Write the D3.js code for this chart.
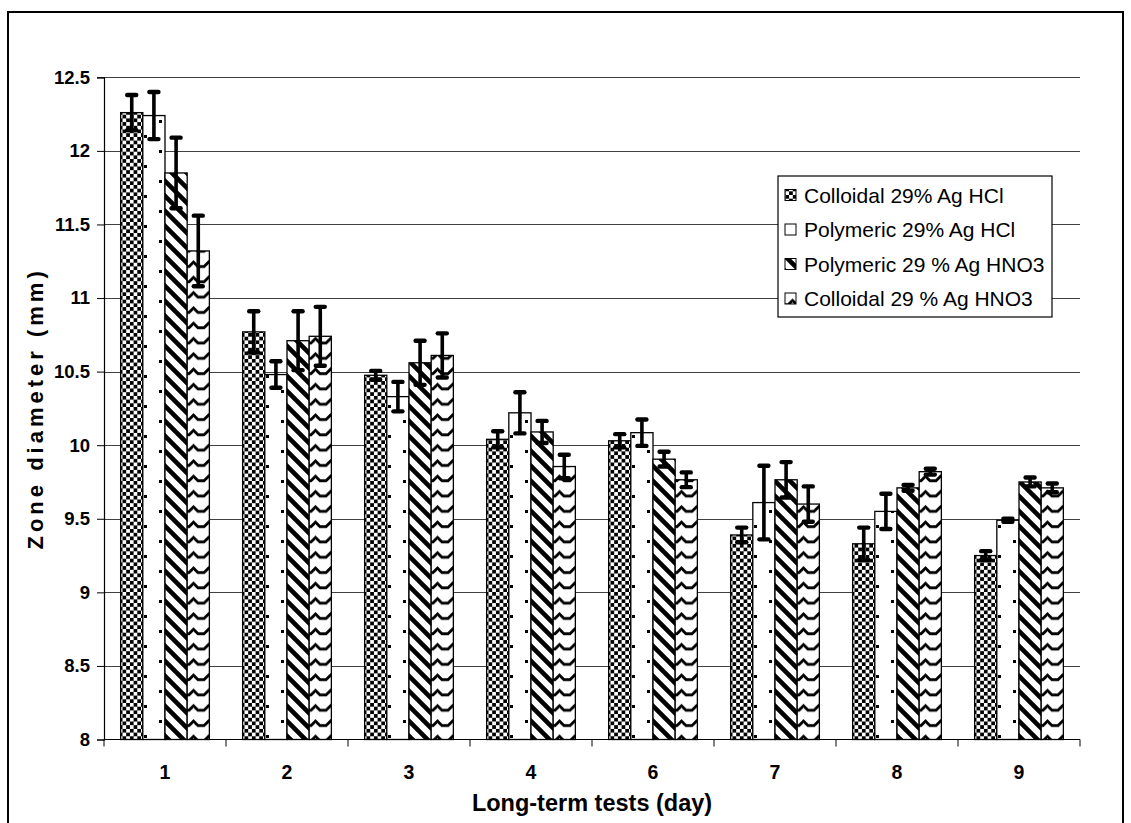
<!DOCTYPE html>
<html>
<head>
<meta charset="utf-8">
<script src="https://cdn.jsdelivr.net/npm/d3@7/dist/d3.min.js"></script>
<style>
  html, body { margin: 0; padding: 0; background: #fff; }
  svg { display: block; font-family: "Liberation Sans", Arial, sans-serif; }
</style>
</head>
<body>
<svg id="chart" width="1131" height="823"></svg>
<script>
// Inhibition zone diameters (mm) over the long-term test days
const categories = ["1", "2", "3", "4", "6", "7", "8", "9"];
const seriesNames = [
  "Colloidal 29% Ag HCl",
  "Polymeric 29% Ag HCl",
  "Polymeric 29 % Ag HNO3",
  "Colloidal 29 % Ag HNO3"
];
const colloidalHCl      = [12.26, 10.77, 10.475, 10.04, 10.03, 9.39, 9.33, 9.25];
const colloidalHClErr   = [0.12, 0.14, 0.03, 0.055, 0.045, 0.05, 0.11, 0.03];
const polymericHCl      = [12.24, 10.48, 10.33, 10.22, 10.085, 9.61, 9.55, 9.49];
const polymericHClErr   = [0.16, 0.09, 0.10, 0.14, 0.09, 0.25, 0.12, 0.01];
const polymericHNO3     = [11.85, 10.71, 10.56, 10.09, 9.905, 9.765, 9.71, 9.75];
const polymericHNO3Err  = [0.24, 0.20, 0.15, 0.075, 0.05, 0.12, 0.02, 0.03];
const colloidalHNO3     = [11.32, 10.74, 10.61, 9.855, 9.765, 9.60, 9.82, 9.71];
const colloidalHNO3Err  = [0.24, 0.20, 0.15, 0.08, 0.05, 0.12, 0.02, 0.03];
const yTicks = [8, 8.5, 9, 9.5, 10, 10.5, 11, 11.5, 12, 12.5];

const values = [colloidalHCl, polymericHCl, polymericHNO3, colloidalHNO3];
const errors = [colloidalHClErr, polymericHClErr, polymericHNO3Err, colloidalHNO3Err];
const patternIds = ["pat-check", "pat-dots", "pat-diag", "pat-wave"];

const svg = d3.select("#chart");
const plot = { left: 104, right: 1080, top: 77.3, bottom: 739.5 };

// ---- fill patterns ----
const defs = svg.append("defs");

// small checkerboard
const pCheck = defs.append("pattern").attr("id", "pat-check")
  .attr("patternUnits", "userSpaceOnUse").attr("width", 7.4).attr("height", 7.4);
pCheck.append("rect").attr("width", 7.4).attr("height", 7.4).attr("fill", "#fff");
pCheck.append("rect").attr("width", 3.7).attr("height", 3.7).attr("fill", "#000");
pCheck.append("rect").attr("x", 3.7).attr("y", 3.7).attr("width", 3.7).attr("height", 3.7).attr("fill", "#000");

// sparse dots
const pDots = defs.append("pattern").attr("id", "pat-dots")
  .attr("patternUnits", "userSpaceOnUse").attr("width", 30).attr("height", 30)
  .attr("x", 145).attr("y", 0);
pDots.append("rect").attr("width", 30).attr("height", 30).attr("fill", "#fff");
pDots.append("rect").attr("x", 0).attr("y", 0).attr("width", 3).attr("height", 3).attr("fill", "#000");
pDots.append("rect").attr("x", 15).attr("y", 15).attr("width", 3).attr("height", 3).attr("fill", "#000");

// wide downward diagonal stripes
const pDiag = defs.append("pattern").attr("id", "pat-diag")
  .attr("patternUnits", "userSpaceOnUse").attr("width", 15).attr("height", 15);
pDiag.append("rect").attr("width", 15).attr("height", 15).attr("fill", "#fff");
pDiag.append("path").attr("d", "M-4,-4 L19,19 M-4,11 L4,19 M11,-4 L19,4")
  .attr("stroke", "#000").attr("stroke-width", 4.6);

// wave ("\_/" steps)
const pWave = defs.append("pattern").attr("id", "pat-wave")
  .attr("patternUnits", "userSpaceOnUse").attr("width", 15).attr("height", 15.3);
pWave.append("rect").attr("width", 15).attr("height", 15.3).attr("fill", "#fff");
pWave.append("path").attr("d", "M-1,1.5 L4,6.5 L10,6.5 L15.5,1")
  .attr("fill", "none").attr("stroke", "#000").attr("stroke-width", 2.8)
  .attr("stroke-linejoin", "miter");

// ---- scales ----
const x = d3.scaleBand().domain(categories).range([plot.left, plot.right]).padding(0);
const xSub = d3.scaleBand().domain(d3.range(4)).range([0, x.bandwidth()])
  .paddingInner(0).paddingOuter(0.75);
const y = d3.scaleLinear().domain([8, 12.5]).range([plot.bottom, plot.top]);

// outer frame
svg.append("rect").attr("x", 8).attr("y", 12).attr("width", 1115).attr("height", 830)
  .attr("fill", "#fff").attr("stroke", "#000").attr("stroke-width", 2);

// gridlines
svg.append("g").selectAll("line").data(yTicks.filter(t => t > 8)).join("line")
  .attr("x1", plot.left).attr("x2", plot.right)
  .attr("y1", d => Math.round(y(d)) + 0.5).attr("y2", d => Math.round(y(d)) + 0.5)
  .attr("stroke", "#404040").attr("stroke-width", 1);

// bars
const groups = svg.append("g").selectAll("g").data(categories).join("g")
  .attr("transform", d => `translate(${x(d)},0)`);

groups.each(function (cat, ci) {
  const g = d3.select(this);
  for (let s = 0; s < 4; s++) {
    const v = values[s][ci];
    g.append("rect")
      .attr("x", xSub(s)).attr("y", y(v))
      .attr("width", xSub.bandwidth()).attr("height", y(8) - y(v))
      .attr("fill", `url(#${patternIds[s]})`)
      .attr("stroke", "#000").attr("stroke-width", 1.3);
  }
});

// error bars
groups.each(function (cat, ci) {
  const g = d3.select(this);
  for (let s = 0; s < 4; s++) {
    const v = values[s][ci], e = errors[s][ci];
    const cx = xSub(s) + xSub.bandwidth() / 2;
    g.append("line").attr("x1", cx).attr("x2", cx)
      .attr("y1", y(v + e)).attr("y2", y(v - e))
      .attr("stroke", "#000").attr("stroke-width", 3.6);
    [v + e, v - e].forEach(t => {
      g.append("line").attr("x1", cx - 4.5).attr("x2", cx + 4.5)
        .attr("y1", y(t)).attr("y2", y(t))
        .attr("stroke", "#000").attr("stroke-width", 4.4).attr("stroke-linecap", "round");
    });
  }
});

// y axis
const yAxis = d3.axisLeft(y).tickValues(yTicks).tickSize(7).tickPadding(7)
  .tickFormat(d3.format("~g"));
const gy = svg.append("g").attr("transform", `translate(${plot.left},0)`).call(yAxis);
gy.select(".domain").attr("stroke", "#000").attr("stroke-width", 1.2);
gy.selectAll(".tick line").attr("stroke", "#000");
gy.selectAll("text").attr("font-size", 18.5).attr("font-weight", "bold")
  .attr("font-family", "Liberation Sans, Arial, sans-serif").attr("fill", "#000");

// x axis: ticks between categories
const gx = svg.append("g").attr("transform", `translate(0,${plot.bottom})`);
gx.append("line").attr("x1", plot.left).attr("x2", plot.right).attr("y1", 0).attr("y2", 0)
  .attr("stroke", "#000").attr("stroke-width", 1.2);
const boundaries = categories.map(c => x(c)).concat([plot.right]);
gx.selectAll("line.tk").data(boundaries).join("line").attr("class", "tk")
  .attr("x1", d => d).attr("x2", d => d).attr("y1", 0).attr("y2", 7)
  .attr("stroke", "#000");
gx.selectAll("text").data(categories).join("text")
  .attr("x", d => x(d) + x.bandwidth() / 2).attr("y", 39.5)
  .attr("text-anchor", "middle").attr("font-size", 19.5).attr("font-weight", "bold")
  .text(d => d);

// axis titles
svg.append("text")
  .attr("transform", `translate(43,${(plot.top + plot.bottom) / 2}) rotate(-90)`)
  .attr("text-anchor", "middle").attr("font-size", 22).attr("font-weight", "bold")
  .attr("letter-spacing", 4)
  .text("Zone diameter (mm)");
svg.append("text")
  .attr("x", (plot.left + plot.right) / 2).attr("y", 811)
  .attr("text-anchor", "middle").attr("font-size", 23.5).attr("font-weight", "bold")
  .text("Long-term tests (day)");

// legend
const legend = svg.append("g").attr("transform", "translate(778,176)");
legend.append("rect").attr("width", 274).attr("height", 141)
  .attr("fill", "#fff").attr("stroke", "#000").attr("stroke-width", 1.2);
seriesNames.forEach((name, i) => {
  const row = legend.append("g").attr("transform", `translate(0,${19 + i * 34.5})`);
  row.append("rect").attr("x", 7).attr("y", -5.5).attr("width", 11).attr("height", 11)
    .attr("fill", `url(#${patternIds[i]})`).attr("stroke", "#000").attr("stroke-width", 1);
  row.append("text").attr("x", 26).attr("y", 0).attr("dy", "0.36em")
    .attr("font-size", 21).text(name);
});
</script>
</body>
</html>
